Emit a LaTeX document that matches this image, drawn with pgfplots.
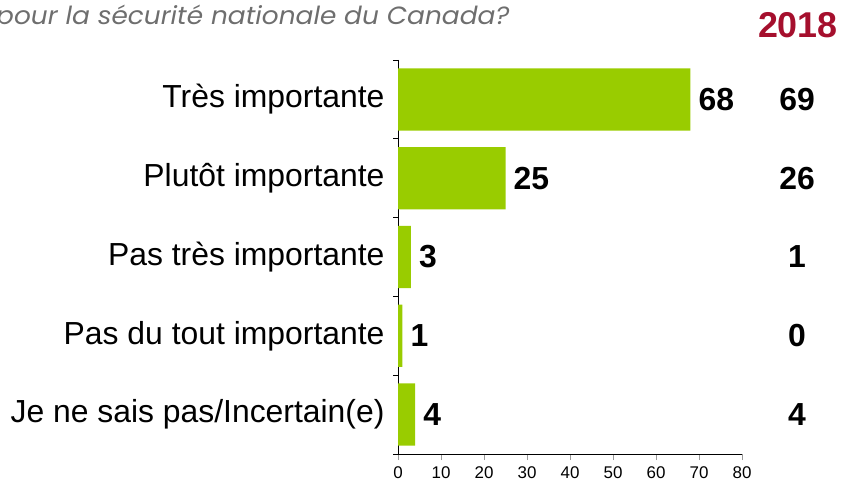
\documentclass[border=0pt]{standalone}
\usepackage{fontspec}
\setmainfont{Liberation Sans}
\newfontfamily\titlefont{Poppins}
\usepackage{pgfplots}
\pgfplotsset{compat=1.18}
\usepackage{pgfplotstable}

\definecolor{bargreen}{HTML}{99CC00}
\definecolor{yearred}{HTML}{A50F2D}
\definecolor{titlegray}{HTML}{6E6E6E}

% idx: category (top to bottom), val: current %, prev: 2018 %
\pgfplotstableread{
idx val prev
0 68 69
1 25 26
2 3 1
3 1 0
4 4 4
}\datatable

\begin{document}
\begin{tikzpicture}[x=1bp,y=1bp]
\useasboundingbox (0,0) rectangle (841,492);
\begin{axis}[
    at={(398bp,38bp)}, anchor=south west,
    scale only axis,
    width=344bp, height=394bp,
    xmin=0, xmax=80,
    ymin=-0.5, ymax=4.5,
    y dir=reverse,
    axis x line=bottom, axis y line=left,
    axis line style={-, black, line width=0.8pt},
    xtick={0,10,...,80},
    ytick={0,...,4},
    yticklabels={Très importante, Plutôt importante, Pas très importante, Pas du tout importante, Je ne sais pas/Incertain(e)},
    minor ytick={-0.5,0.5,...,4.5},
    tick align=outside,
    major tick length=6bp,
    minor tick length=5bp,
    major y tick style={draw=none},
    minor y tick style={draw=black, line width=0.8pt},
    major x tick style={draw=gray!80, line width=1pt},
    /pgf/number format/assume math mode=true,
    yticklabel style={font=\fontsize{32}{32}\selectfont, xshift=-4bp},
    xticklabel style={font=\fontsize{17}{17}\selectfont, yshift=-3bp},
    clip=false,
  ]
  \addplot[
      xbar, bar width=0.79, fill=bargreen, draw=none,
      point meta=explicit symbolic,
      nodes near coords,
      nodes near coords style={font=\bfseries\fontsize{32}{32}\selectfont, anchor=west, xshift=8bp, inner sep=0pt}
    ] table[x=val, y=idx, meta=val] {\datatable};
  \addplot[
      draw=none, mark=none,
      point meta=explicit symbolic,
      nodes near coords,
      nodes near coords style={font=\bfseries\fontsize{32}{32}\selectfont, anchor=center, inner sep=0pt}
    ] table[x expr=92.8, y=idx, meta=prev] {\datatable};
\end{axis}
\node[anchor=base west, inner sep=0pt, text=titlegray, font=\titlefont\itshape\fontsize{25}{25}\selectfont] at (-4,467) {\scalebox{1.06}[1]{pour la sécurité nationale du Canada?}};
\node[anchor=north east, inner sep=0pt, text=yearred, font=\bfseries\fontsize{36}{36}\selectfont] at (838,480) {2018};
\end{tikzpicture}
\end{document}
